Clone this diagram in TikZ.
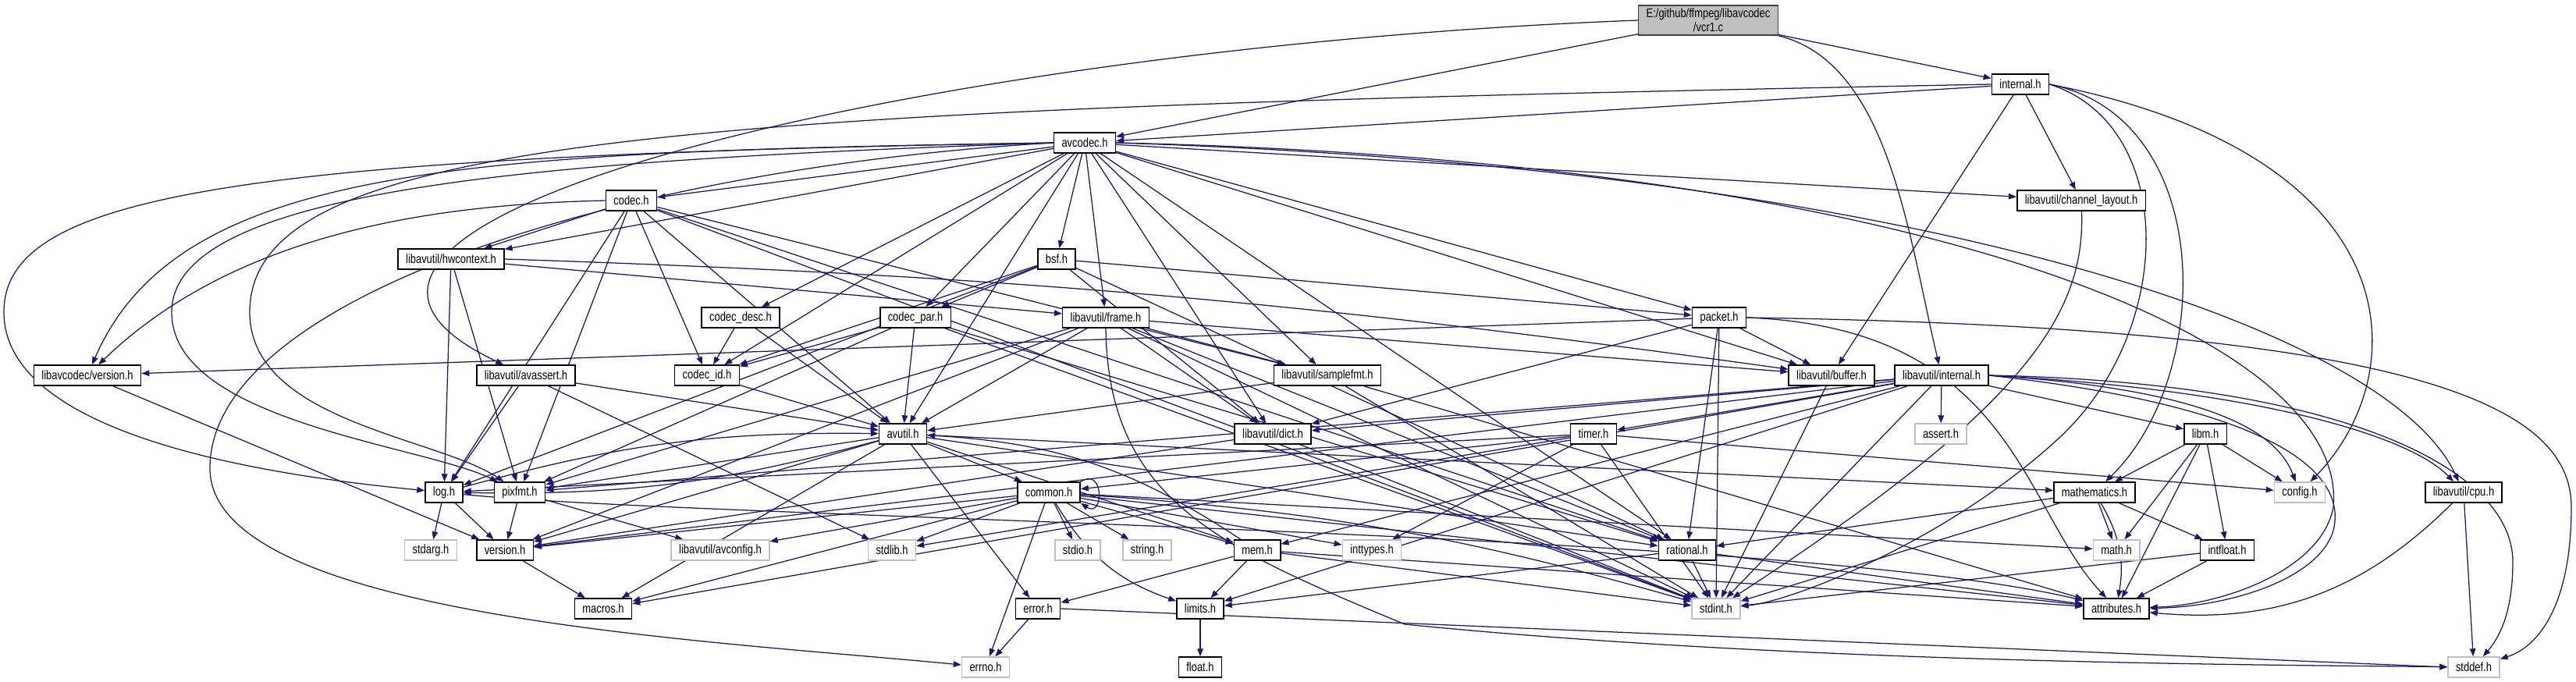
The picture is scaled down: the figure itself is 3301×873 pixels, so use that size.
\documentclass[tikz,border=0pt]{standalone}
\usepackage{fontspec}
\setmainfont{Liberation Sans}[FakeStretch=0.8]
\usetikzlibrary{arrows.meta,backgrounds}
\definecolor{edgeblue}{RGB}{25,25,112}
\definecolor{sysgray}{RGB}{191,191,191}

\begin{document}
\begin{tikzpicture}[
    x=0.1mm, y=-0.1mm,
    file/.style={rectangle, draw=black, fill=white, line width=0.42pt, minimum height=2.6mm, inner xsep=1mm, inner ysep=0.4mm, font=\fontsize{4.6}{5.2}\selectfont},
    sysfile/.style={file, draw=sysgray},
    root/.style={file, fill=sysgray, draw=black!75, align=center},
    dep/.style={draw=edgeblue, line width=0.36pt, -{Triangle[length=1mm, width=0.75mm]}}
]
    \useasboundingbox (0,0) rectangle (3301,873);

    % Files
    \node[root] (vcr) at (2189,26) {E:/github/ffmpeg/libavcodec\\/vcr1.c};
    \node[file] (intl) at (2589,108) {internal.h};
    \node[file] (avcodec) at (1390,183) {avcodec.h};
    \node[file] (codec) at (809,257) {codec.h};
    \node[file] (chlayout) at (2667,257) {libavutil/channel\_layout.h};
    \node[file] (hwctx) at (578,332) {libavutil/hwcontext.h};
    \node[file] (bsf) at (1354,332) {bsf.h};
    \node[file] (codecdesc) at (949,407) {codec\_desc.h};
    \node[file] (codecpar) at (1173,407) {codec\_par.h};
    \node[file] (frame) at (1417,407) {libavutil/frame.h};
    \node[file] (packet) at (2203,407) {packet.h};
    \node[file] (lavcver) at (112,481) {libavcodec/version.h};
    \node[file] (avassert) at (674,481) {libavutil/avassert.h};
    \node[file] (codecid) at (906,481) {codec\_id.h};
    \node[file] (samplefmt) at (1701,481) {libavutil/samplefmt.h};
    \node[file] (buffer) at (2347,481) {libavutil/buffer.h};
    \node[file] (avuintl) at (2488,481) {libavutil/internal.h};
    \node[file] (avutil) at (1157,556) {avutil.h};
    \node[file] (dict) at (1631,556) {libavutil/dict.h};
    \node[file] (timer) at (2042,556) {timer.h};
    \node[sysfile] (assert) at (2487,556) {assert.h};
    \node[file] (libm) at (2826,556) {libm.h};
    \node[file] (log) at (569,631) {log.h};
    \node[file] (pixfmt) at (666,631) {pixfmt.h};
    \node[file] (common) at (1344,631) {common.h};
    \node[file] (mathematics) at (2684,631) {mathematics.h};
    \node[sysfile] (config) at (2947,631) {config.h};
    \node[file] (cpu) at (3157,631) {libavutil/cpu.h};
    \node[sysfile] (stdarg) at (552,705) {stdarg.h};
    \node[file] (version) at (647,705) {version.h};
    \node[sysfile] (avconfig) at (923,705) {libavutil/avconfig.h};
    \node[sysfile] (stdlib) at (1143,705) {stdlib.h};
    \node[sysfile] (stdio) at (1381,705) {stdio.h};
    \node[sysfile] (string) at (1470,705) {string.h};
    \node[file] (mem) at (1611,705) {mem.h};
    \node[sysfile] (inttypes) at (1758,705) {inttypes.h};
    \node[file] (rational) at (2162,705) {rational.h};
    \node[sysfile] (math) at (2712,705) {math.h};
    \node[file] (intfloat) at (2854,705) {intfloat.h};
    \node[file] (macros) at (773,780) {macros.h};
    \node[file] (error) at (1330,780) {error.h};
    \node[file] (limits) at (1538,780) {limits.h};
    \node[sysfile] (stdint) at (2199,780) {stdint.h};
    \node[file] (attributes) at (2712,780) {attributes.h};
    \node[sysfile] (errno) at (1263,855) {errno.h};
    \node[file] (float) at (1538,855) {float.h};
    \node[sysfile] (stddef) at (3170,855) {stddef.h};

    % Includes
    \begin{scope}[on background layer]
    \fill[white] (0,0) rectangle (3301,873);
    % vcr1.c
    \draw[dep] (vcr) -- (avcodec);
    \draw[dep] (vcr) -- (intl);
    \draw[dep] (vcr.west) .. controls (1200,60) and (250,280) .. (avassert);
    \draw[dep] (vcr.south east) .. controls (2420,80) and (2445,300) .. (avuintl);
    % internal.h
    \draw[dep] (intl) -- (avcodec);
    \draw[dep] (intl.west) .. controls (900,140) and (320,170) .. (320,400) .. controls (320,540) and (560,560) .. (pixfmt);
    \draw[dep] (intl) -- (chlayout);
    \draw[dep] (intl) -- (buffer);
    \draw[dep] (intl.east) .. controls (2839,150) and (2839,480) .. (mathematics);
    \draw[dep] (intl.east) .. controls (2789,160) and (2789,420) .. (2640,560) .. controls (2500,690) and (2300,770) .. (stdint);
    \draw[dep] (intl.east) .. controls (3095,200) and (3095,480) .. (config);
    % avcodec.h
    \draw[dep] (avcodec) -- (codec);
    \draw[dep] (avcodec) -- (chlayout);
    \draw[dep] (avcodec) -- (hwctx);
    \draw[dep] (avcodec) -- (bsf);
    \draw[dep] (avcodec) -- (codecdesc);
    \draw[dep] (avcodec) -- (codecpar);
    \draw[dep] (avcodec) -- (frame);
    \draw[dep] (avcodec) -- (packet);
    \draw[dep] (avcodec) -- (codecid);
    \draw[dep] (avcodec) -- (samplefmt);
    \draw[dep] (avcodec) -- (buffer);
    \draw[dep] (avcodec) -- (avutil);
    \draw[dep] (avcodec) -- (dict);
    \draw[dep] (avcodec) -- (rational);
    \draw[dep] (avcodec.west) .. controls (600,195) and (230,210) .. (lavcver);
    \draw[dep] (avcodec.west) .. controls (300,200) and (5,250) .. (5,400) .. controls (5,560) and (350,610) .. (log);
    \draw[dep] (avcodec.west) .. controls (700,205) and (220,240) .. (220,400) .. controls (220,540) and (540,570) .. (pixfmt);
    \draw[dep] (avcodec.west) .. controls (800,215) and (269,380) .. (269,600) .. controls (269,790) and (900,820) .. (errno);
    \draw[dep] (avcodec.east) .. controls (2450,215) and (3060,420) .. (cpu);
    \draw[dep] (avcodec.east) .. controls (2450,205) and (3010,430) .. (2990,650) .. controls (2975,730) and (2850,775) .. (attributes);
    % codec.h
    \draw[dep] (codec) -- (hwctx);
    \draw[dep] (codec.west) .. controls (550,262) and (300,300) .. (lavcver);
    \draw[dep] (codec) -- (codecid);
    \draw[dep] (codec) -- (samplefmt);
    \draw[dep] (codec) -- (avutil);
    \draw[dep] (codec) -- (log);
    \draw[dep] (codec) -- (pixfmt);
    \draw[dep] (codec) -- (rational);
    \draw[dep] (codec) -- (stdint);
    % libavutil/hwcontext.h
    \draw[dep] (hwctx) -- (frame);
    \draw[dep] (hwctx.east) to[bend left=3] (buffer);
    \draw[dep] (hwctx) -- (log);
    \draw[dep] (hwctx) -- (pixfmt);
    % bsf.h
    \draw[dep] (bsf) -- (codecpar);
    \draw[dep] (bsf) -- (codecid);
    \draw[dep] (bsf) -- (packet);
    \draw[dep] (bsf) -- (dict);
    \draw[dep] (bsf) -- (log);
    \draw[dep] (bsf) -- (rational);
    % codec_desc.h, codec_par.h, codec_id.h
    \draw[dep] (codecdesc) -- (codecid);
    \draw[dep] (codecdesc) -- (avutil);
    \draw[dep] (codecpar) -- (codecid);
    \draw[dep] (codecpar) -- (avutil);
    \draw[dep] (codecpar) -- (pixfmt);
    \draw[dep] (codecpar) -- (rational);
    \draw[dep] (codecpar) -- (stdint);
    \draw[dep] (codecid) -- (avutil);
    % libavutil/frame.h
    \draw[dep] (frame) -- (avutil);
    \draw[dep] (frame) -- (samplefmt);
    \draw[dep] (frame) -- (buffer);
    \draw[dep] (frame) -- (dict);
    \draw[dep] (frame) -- (pixfmt);
    \draw[dep] (frame) -- (version);
    \draw[dep] (frame) -- (rational);
    \draw[dep] (frame) -- (stdint);
    \draw[dep] (frame.south) .. controls (1420,640) and (1560,700) .. (1800,800) .. controls (2300,850) and (2900,852) .. (stddef);
    % packet.h
    \draw[dep] (packet) -- (lavcver);
    \draw[dep] (packet) -- (buffer);
    \draw[dep] (packet) -- (dict);
    \draw[dep] (packet) -- (rational);
    \draw[dep] (packet) -- (stdint);
    \draw[dep] (packet.east) .. controls (2580,420) and (2590,650) .. (attributes);
    \draw[dep] (packet.east) .. controls (3100,420) and (3295,520) .. (3295,650) .. controls (3295,780) and (3250,830) .. (stddef);
    % libavutil/internal.h
    \draw[dep] (avuintl) -- (assert);
    \draw[dep] (avuintl) -- (timer);
    \draw[dep] (avuintl) -- (libm);
    \draw[dep] (avuintl) -- (dict);
    \draw[dep] (avuintl) -- (pixfmt);
    \draw[dep] (avuintl) -- (version);
    \draw[dep] (avuintl) -- (macros);
    \draw[dep] (avuintl) -- (mem);
    \draw[dep] (avuintl) -- (limits);
    \draw[dep] (avuintl) -- (stdint);
    \draw[dep] (avuintl.east) .. controls (2850,500) and (2920,560) .. (config);
    \draw[dep] (avuintl.east) .. controls (2900,520) and (3010,600) .. (2990,680) .. controls (2970,745) and (2850,778) .. (attributes);
    \draw[dep] (avuintl.east) .. controls (2900,500) and (3090,560) .. (cpu);
    \draw[dep] (avuintl.east) .. controls (3000,490) and (3220,600) .. (3220,720) .. controls (3220,790) and (3200,820) .. (stddef);
    % avutil.h
    \draw[dep] (avutil) -- (common);
    \draw[dep] (avutil) to[bend left=8] (log);
    \draw[dep] (avutil) -- (pixfmt);
    \draw[dep] (avutil) -- (version);
    \draw[dep] (avutil) -- (macros);
    \draw[dep] (avutil) -- (error);
    \draw[dep] (avutil) -- (mem);
    \draw[dep] (avutil) -- (rational);
    \draw[dep] (avutil) -- (mathematics);
    % the rest
    \draw[dep] (chlayout) .. controls (2672,400) and (2600,520) .. (stdint);
    \draw[dep] (lavcver) -- (version);
    \draw[dep] (avassert) -- (avutil);
    \draw[dep] (avassert) -- (log);
    \draw[dep] (avassert) -- (stdlib);
    \draw[dep] (samplefmt) -- (avutil);
    \draw[dep] (samplefmt) -- (stdint);
    \draw[dep] (samplefmt) -- (attributes);
    \draw[dep] (buffer) -- (stdint);
    \draw[dep] (dict) -- (version);
    \draw[dep] (dict) -- (stdint);
    \draw[dep] (timer) -- (log);
    \draw[dep] (timer) -- (common);
    \draw[dep] (timer) -- (stdlib);
    \draw[dep] (timer) -- (inttypes);
    \draw[dep] (timer) -- (stdint);
    \draw[dep] (timer) -- (config);
    \draw[dep] (libm) -- (mathematics);
    \draw[dep] (libm) -- (config);
    \draw[dep] (libm) -- (math);
    \draw[dep] (libm) -- (intfloat);
    \draw[dep] (libm) -- (attributes);
    \draw[dep] (log) -- (stdarg);
    \draw[dep] (log) -- (version);
    \draw[dep] (log) to[bend left=8] (avutil);
    \draw[dep] (log) .. controls (900,665) and (2300,680) .. (attributes);
    \draw[dep] (pixfmt) -- (version);
    \draw[dep] (pixfmt) -- (avconfig);
    \draw[dep] (common.north east) .. controls +(30,-20) and +(30,20) .. (common.south east);
    \draw[dep] (common) -- (version);
    \draw[dep] (common) -- (avconfig);
    \draw[dep] (common) -- (macros);
    \draw[dep] (common) -- (stdlib);
    \draw[dep] (common) -- (stdio);
    \draw[dep] (common) -- (string);
    \draw[dep] (common) -- (mem);
    \draw[dep] (common) -- (errno);
    \draw[dep] (common) to[bend right=20] (limits);
    \draw[dep] (common) -- (inttypes);
    \draw[dep] (common) -- (math);
    \draw[dep] (common) to[bend left=6] (stdint);
    \draw[dep] (common) -- (attributes);
    \draw[dep] (mathematics) -- (rational);
    \draw[dep] (mathematics) -- (math);
    \draw[dep] (mathematics) -- (intfloat);
    \draw[dep] (mathematics) -- (stdint);
    \draw[dep] (mathematics) to[bend left=20] (attributes);
    \draw[dep] (cpu) -- (stddef);
    \draw[dep] (cpu) to[bend left=25] (attributes);
    \draw[dep] (version) -- (macros);
    \draw[dep] (mem) to[bend right=15] (avutil);
    \draw[dep] (mem) -- (error);
    \draw[dep] (mem) -- (limits);
    \draw[dep] (mem) -- (stdint);
    \draw[dep] (mem) -- (attributes);
    \draw[dep] (rational) -- (limits);
    \draw[dep] (rational) -- (stdint);
    \draw[dep] (rational) -- (attributes);
    \draw[dep] (intfloat) -- (stdint);
    \draw[dep] (intfloat) -- (attributes);
    \draw[dep] (error) -- (errno);
    \draw[dep] (error.east) -- (stddef.west);
    \draw[dep] (limits) -- (float);
    \end{scope}
\end{tikzpicture}
\end{document}
